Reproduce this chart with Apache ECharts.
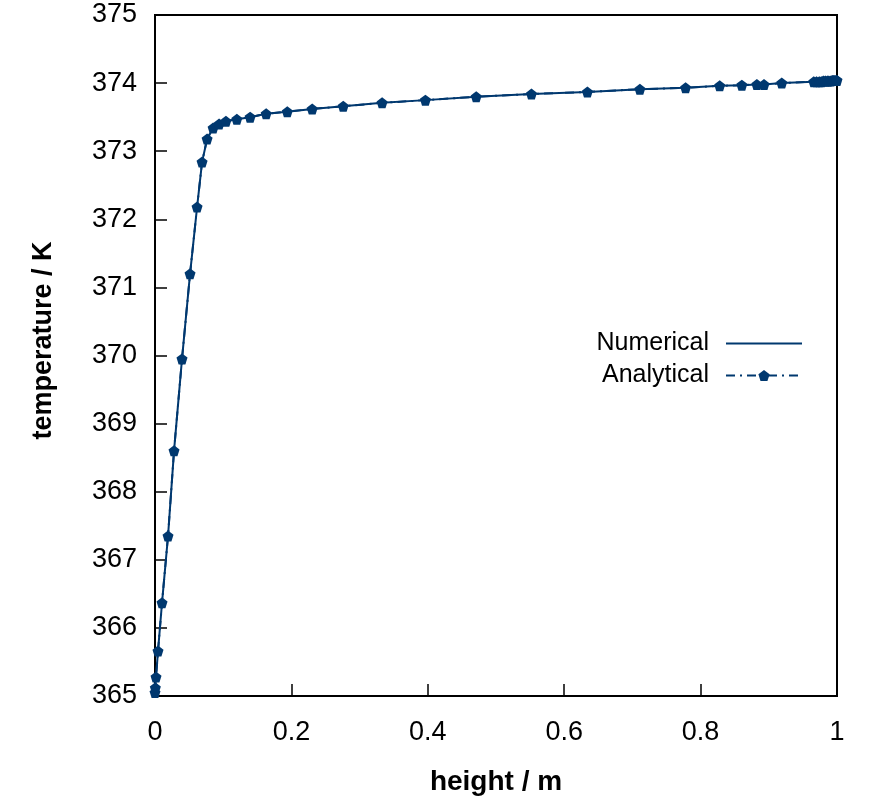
<!DOCTYPE html>
<html>
<head>
<meta charset="utf-8">
<script src="https://cdn.jsdelivr.net/npm/echarts@6/dist/echarts.min.js"></script>
<style>
html,body{margin:0;padding:0;background:#fff;}
#main{width:875px;height:801px;}
</style>
</head>
<body>
<div id="main"></div>
<script>
// height / m  (same nodes for both curves, they lie on top of each other)
var heightVal = [0, 0.0005, 0.0015, 0.0044, 0.0103, 0.0191, 0.0279, 0.0396, 0.0514, 0.0617,
    0.069, 0.0764, 0.0852, 0.094, 0.104, 0.120, 0.1395, 0.163, 0.194, 0.2305,
    0.276, 0.333, 0.3965, 0.471, 0.552, 0.634, 0.711, 0.778, 0.828, 0.8605,
    0.8825, 0.893, 0.919, 0.966, 0.970, 0.974, 0.977, 0.980, 0.983, 0.986,
    0.988, 0.991, 0.993, 0.995, 0.997, 0.999, 1.0];
// temperature / K
var tempAnalytical = [365.05, 365.12, 365.28, 365.66, 366.37, 367.35, 368.6, 369.95, 371.2, 372.18,
    372.84, 373.18, 373.34, 373.4, 373.44, 373.47, 373.5, 373.55, 373.58, 373.62,
    373.66, 373.71, 373.75, 373.8, 373.84, 373.87, 373.91, 373.93, 373.96, 373.97,
    373.98, 373.98, 374.0, 374.02, 374.02, 374.02, 374.02, 374.03, 374.03, 374.03,
    374.03, 374.03, 374.04, 374.04, 374.04, 374.04, 374.04];
var tempNumerical = tempAnalytical.slice();
var xTicks = [0, 0.2, 0.4, 0.6, 0.8, 1];
var yTicks = [365, 366, 367, 368, 369, 370, 371, 372, 373, 374, 375];

var lineColor = '#00386f';
var pentagon = 'path://M0,-10 L9.51,-3.09 L5.88,8.09 L-5.88,8.09 L-9.51,-3.09 Z';

function pairs(xs, ys){
    var out = [];
    for (var i = 0; i < xs.length; i++) out.push([xs[i], ys[i]]);
    return out;
}

var myChart = echarts.init(document.getElementById('main'));
var option = {
    animation: false,
    textStyle: { fontFamily: 'Liberation Sans', color: '#000' },
    grid: {
        left: 155, right: 38, top: 15, bottom: 105,
        show: true, borderColor: '#000', borderWidth: 2, backgroundColor: 'transparent'
    },
    legend: {
        data: [{ name: 'Numerical', itemStyle: { opacity: 0 } }, { name: 'Analytical' }],
        orient: 'vertical',
        align: 'right',
        right: 67,
        top: 326,
        itemWidth: 76,
        itemHeight: 14,
        itemGap: 7,
        textStyle: { fontSize: 25, color: '#000', fontFamily: 'Liberation Sans', padding: [0, 12, 0, 0] }
    },
    xAxis: {
        type: 'value',
        min: xTicks[0],
        max: xTicks[xTicks.length - 1],
        interval: 0.2,
        name: 'height / m',
        nameLocation: 'middle',
        nameGap: 72,
        nameTextStyle: { fontSize: 28, fontWeight: 'bold', color: '#000', fontFamily: 'Liberation Sans' },
        axisLine: { show: true, lineStyle: { color: '#000', width: 2 } },
        axisTick: { show: true, inside: true, length: 12, lineStyle: { color: '#000', width: 1.5 } },
        axisLabel: { fontSize: 27, color: '#000', margin: 23, fontFamily: 'Liberation Sans' },
        splitLine: { show: false }
    },
    yAxis: {
        type: 'value',
        min: yTicks[0],
        max: yTicks[yTicks.length - 1],
        interval: 1,
        name: 'temperature / K',
        nameLocation: 'middle',
        nameRotate: 90,
        nameGap: 98,
        nameTextStyle: { fontSize: 27, fontWeight: 'bold', color: '#000', fontFamily: 'Liberation Sans', padding: [0, 0, 0, 30] },
        axisLine: { show: true, lineStyle: { color: '#000', width: 2 } },
        axisTick: { show: true, inside: true, length: 12, lineStyle: { color: '#000', width: 1.5 } },
        axisLabel: { fontSize: 27, color: '#000', margin: 18, padding: [6, 0, 0, 0], fontFamily: 'Liberation Sans' },
        splitLine: { show: false }
    },
    series: [
        {
            name: 'Numerical',
            type: 'line',
            symbol: 'none',
            data: pairs(heightVal, tempNumerical),
            lineStyle: { color: lineColor, width: 2 },
            itemStyle: { color: lineColor }
        },
        {
            name: 'Analytical',
            type: 'line',
            symbol: pentagon,
            symbolSize: 11,
            data: pairs(heightVal, tempAnalytical),
            lineStyle: { color: lineColor, width: 2, type: [9, 5, 2, 5] },
            itemStyle: { color: lineColor }
        }
    ]
};
myChart.setOption(option);
</script>
</body>
</html>
